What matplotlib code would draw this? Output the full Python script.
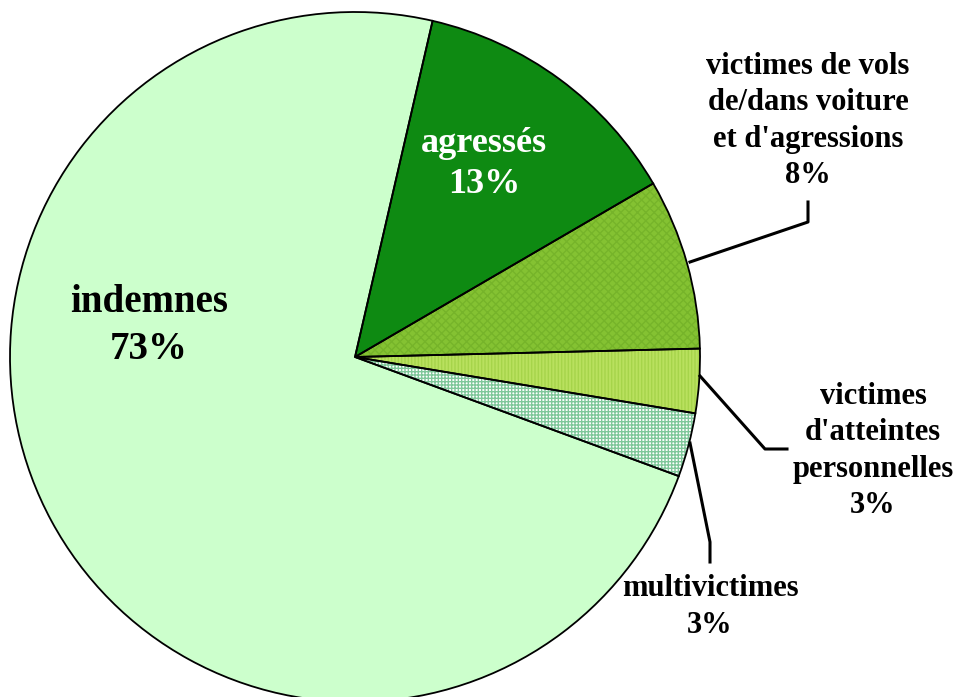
import numpy as np
import matplotlib.pyplot as plt

labels = ["agressés", "victimes de vols\nde/dans voiture\net d'agressions",
          "victimes\nd'atteintes\npersonnelles", "multivictimes", "indemnes"]
values = [13, 8, 3, 3, 73]
colors = ["#0e8a12", "#84c232", "#b9e15e", "#ffffff", "#ccffcc"]
hatches = ["", "xxxx", "|||||", "+++++", ""]
hatch_colors = ["#0e8a12", "#76b42a", "#a6d44a", "#7fc79a", "#ccffcc"]

W, H = 958, 697
fig = plt.figure(figsize=(W / 100, H / 100), dpi=100)
ax = fig.add_axes([0, 0, 1, 1])

cx, cy, r = 355, H - 357, 345
font = dict(family="Liberation Serif", weight="bold")

# fill + hatch layer
wedges, _ = ax.pie(values, colors=colors, startangle=77, counterclock=False,
                   center=(cx, cy), radius=r, frame=True,
                   wedgeprops=dict(linewidth=0))
for w, h, hc in zip(wedges, hatches, hatch_colors):
    if h:
        w.set_hatch(h)
        w.set_edgecolor(hc)
# outline layer
ax.pie(values, colors=["none"] * 5, startangle=77, counterclock=False,
       center=(cx, cy), radius=r, frame=True,
       wedgeprops=dict(linewidth=1.3, edgecolor="black", fill=False))
ax.set_xlim(0, W)
ax.set_ylim(0, H)
ax.set_aspect("equal")
ax.axis("off")

def py(y):
    return H - y

# labels inside
ax.text(149, py(326), labels[4] + "\n73%", ha="center", va="center",
        fontsize=28, linespacing=1.33, color="black", **font)
ax.text(484, py(164), labels[0] + "\n13%", ha="center", va="center",
        fontsize=26, linespacing=1.3, color="white", **font)

# outside labels
ax.text(808, py(121), labels[1] + "\n8%", ha="center", va="center",
        fontsize=22, linespacing=1.32, **font)
ax.text(873, py(451), labels[2] + "\n3%", ha="center", va="center",
        fontsize=22, linespacing=1.32, **font)
ax.text(710, py(607), labels[3] + "\n3%", ha="center", va="center",
        fontsize=22, linespacing=1.32, **font)

# leader lines
lw = 2.2
ax.plot([690, 808, 808], [py(262), py(222), py(202)], color="black", lw=lw)
ax.plot([700, 765, 787], [py(376), py(449), py(449)], color="black", lw=lw)
ax.plot([690, 710, 710], [py(443), py(542), py(562)], color="black", lw=lw)

fig.savefig("out.png", dpi=100)
